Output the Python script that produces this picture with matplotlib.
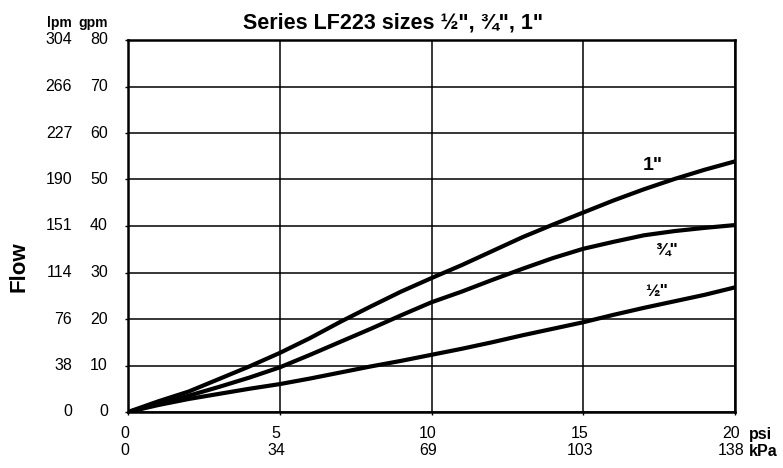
import matplotlib
matplotlib.use('Agg')
import matplotlib.pyplot as plt
import matplotlib.transforms as mtransforms

# flow curves, one value per psi (gpm)
psi = [0, 1, 2, 3, 4, 5, 6, 7, 8, 9, 10, 11, 12, 13, 14, 15, 16, 17, 18, 19, 20]
flow_1 = [0, 2.3, 4.4, 7.1, 9.8, 12.7, 15.9, 19.4, 22.7, 25.9, 28.8,
          31.6, 34.6, 37.6, 40.3, 42.9, 45.5, 47.9, 50.1, 52.1, 53.9]
flow_34 = [0, 1.7, 3.5, 5.4, 7.4, 9.6, 12.3, 15.1, 17.9, 20.8, 23.6,
           25.9, 28.4, 30.8, 33.1, 35.1, 36.6, 38.0, 38.9, 39.6, 40.2]
flow_12 = [0, 1.5, 2.8, 3.9, 5.0, 6.0, 7.2, 8.5, 9.8, 11.0, 12.3,
           13.6, 15.0, 16.5, 17.9, 19.3, 20.9, 22.4, 23.8, 25.2, 26.8]

gpm_ticks = [0, 10, 20, 30, 40, 50, 60, 70, 80]
lpm_labels = ['0', '38', '76', '114', '151', '190', '227', '266', '304']
psi_ticks = [0, 5, 10, 15, 20]
kpa_labels = ['0', '34', '69', '103', '138']

plt.rcParams['font.family'] = ['Liberation Sans', 'DejaVu Sans']
FS = 11.5

fig = plt.figure(figsize=(7.83, 4.68), dpi=100)
ax = fig.add_axes([128 / 783, 1 - 412 / 468, 607 / 783, 372 / 468])

for sp in ax.spines.values():
    sp.set_linewidth(1.8)
    sp.set_color('black')

ax.set_xlim(0, 20)
ax.set_ylim(0, 80)
ax.set_xticks(psi_ticks)
ax.set_yticks(gpm_ticks)
ax.set_xticklabels([])
ax.set_yticklabels([])
ax.tick_params(axis='both', length=2, width=1, color='black')
ax.grid(True, color='black', linewidth=1.1)

for flow in (flow_1, flow_34, flow_12):
    ax.plot(psi, flow, color='black', linewidth=3.0, solid_capstyle='round',
            solid_joinstyle='round')

# y labels: gpm and lpm columns
ty = mtransforms.blended_transform_factory(ax.transAxes, ax.transData)
for g, lab in zip(gpm_ticks, lpm_labels):
    ax.text(-0.033, g, str(g), transform=ty, ha='right', va='center', fontsize=FS)
    ax.text(-0.092, g, lab, transform=ty, ha='right', va='center', fontsize=FS)

# x labels: psi row and kPa row
tx = mtransforms.blended_transform_factory(ax.transData, ax.transAxes)
for p, lab in zip(psi_ticks, kpa_labels):
    ax.text(p - 0.12, -0.058, str(p), transform=tx, ha='center', va='center', fontsize=FS)
    ax.text(p - 0.12, -0.103, lab, transform=tx, ha='center', va='center', fontsize=FS)

fig.text(749 / 783, 1 - 434 / 468, 'psi', ha='left', va='center', fontsize=FS, fontweight='bold')
fig.text(749 / 783, 1 - 451 / 468, 'kPa', ha='left', va='center', fontsize=FS, fontweight='bold')
fig.text(72 / 783, 1 - 23 / 468, 'lpm', ha='right', va='center', fontsize=10, fontweight='bold')
fig.text(108 / 783, 1 - 23 / 468, 'gpm', ha='right', va='center', fontsize=10, fontweight='bold')
fig.text(393 / 783, 1 - 23 / 468, 'Series LF223 sizes ½", ¾", 1"', ha='center', va='center',
         fontsize=15.5, fontweight='bold')
fig.text(19 / 783, 1 - 267 / 468, 'Flow', rotation=90, ha='center', va='center',
         fontsize=16, fontweight='bold')

# curve labels
ax.text(17.3, 53.1, '1"', ha='center', va='center', fontsize=14, fontweight='bold')
ax.text(17.73, 34.8, '¾"', ha='center', va='center', fontsize=12.5, fontweight='bold')
ax.text(17.43, 26.0, '½"', ha='center', va='center', fontsize=12.5, fontweight='bold')

fig.savefig('out.png', dpi=100)
